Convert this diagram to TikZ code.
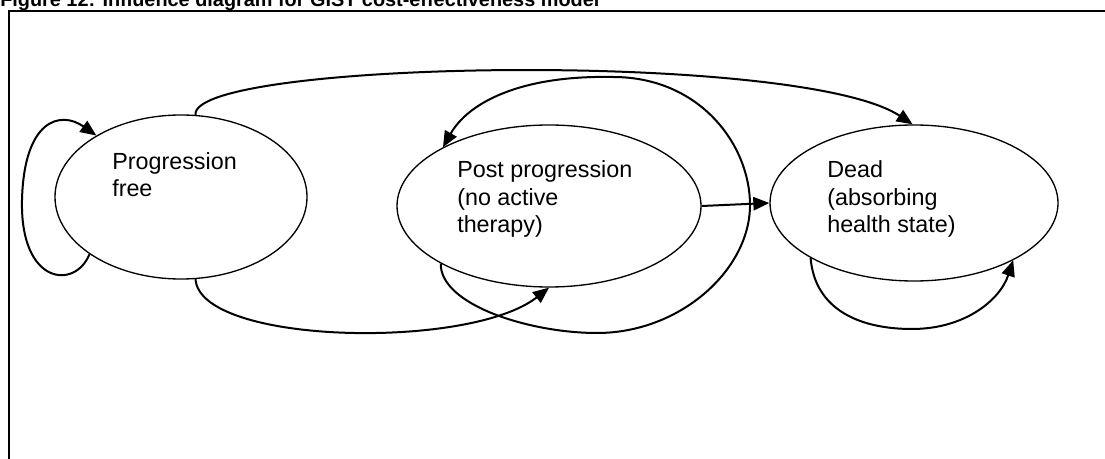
\documentclass[tikz,border=0pt]{standalone}
\usepackage{fontspec}
\setmainfont{Liberation Sans}
\usetikzlibrary{shapes.geometric, arrows.meta}

\begin{document}
\begin{tikzpicture}[x=0.75pt, y=-0.75pt,
    state/.style={draw, ellipse, line width=1pt, inner sep=0pt},
    statetext/.style={anchor=base west, inner sep=0pt, align=left, font=\fontsize{17.5}{20.75}\selectfont},
    arr/.style={line width=1.5pt, -{Triangle[length=12pt, width=10pt]}}]
    \useasboundingbox (0,0) rectangle (1105,459);
    \clip (0,0) rectangle (1105,459);

    % Caption and frame
    \node[anchor=base west, inner sep=0pt, font=\bfseries\fontsize{14.9}{18}\selectfont] (caption) at (0,7) {Figure 12: Influence diagram for GIST cost-effectiveness model};
    \draw[line width=1.5pt] (8.5,470) |- (1115,11);

    % Health states
    \node[state, minimum width=189pt, minimum height=123pt] (pf) at (181,197) {};
    \node[state, minimum width=228pt, minimum height=121.5pt] (pp) at (549,206) {};
    \node[state, minimum width=216pt, minimum height=117pt] (dead) at (914,203) {};

    % labels (base = last line)
    \node[statetext] (pf-text) at (112,197) {Progression\\free};
    \node[statetext] (pp-text) at (457,233) {Post progression\\(no active\\therapy)};
    \node[statetext] (dead-text) at (827,233) {Dead\\(absorbing\\health state)};

    % Transitions
    \draw[arr] (pf.212) .. controls (75,290) and (20,285) .. (22,200) .. controls (24,120) and (60,110) .. (pf.144);
    \draw[arr] (pf.80) .. controls (190,60) and (800,50) .. (dead.91);
    \draw[arr] (pf.280) .. controls (200,345) and (470,350) .. (pp.south);
    \draw[arr] (pp.208) .. controls (440,305) and (530,333) .. (597,333)
        .. controls (680,333) and (750,270) .. (750,205)
        .. controls (750,145) and (700,77) .. (613,77)
        .. controls (520,75) and (468,103) .. (pp.151);
    \draw[arr] (pp.east) -- (dead.west);
    \draw[arr] (dead.208) .. controls (815,310) and (860,329) .. (912,329) .. controls (965,329) and (1000,300) .. (dead.330);
\end{tikzpicture}
\end{document}
